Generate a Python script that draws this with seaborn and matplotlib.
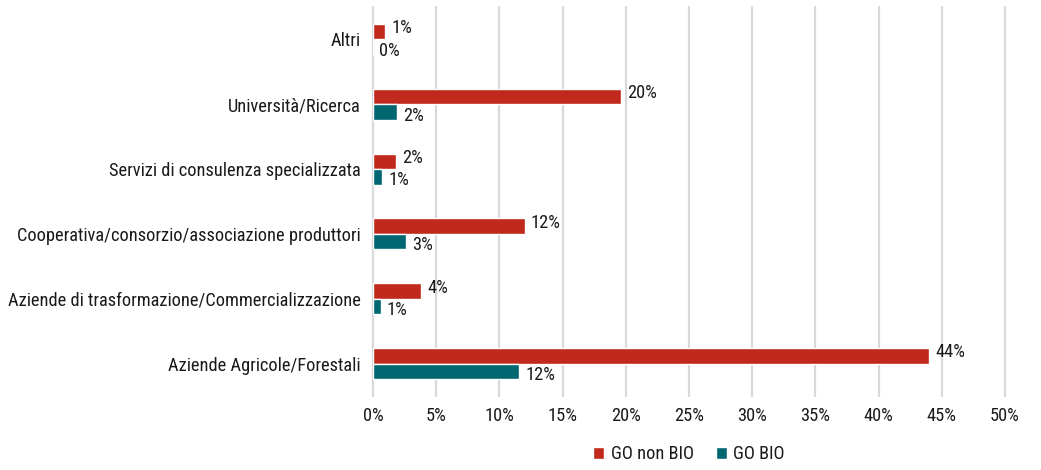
import matplotlib
matplotlib.use("Agg")
import matplotlib.pyplot as plt
import seaborn as sns
import pandas as pd

categorie = [
    "Altri",
    "Università/Ricerca",
    "Servizi di consulenza specializzata",
    "Cooperativa/consorzio/associazione produttori",
    "Aziende di trasformazione/Commercializzazione",
    "Aziende Agricole/Forestali",
]
go_non_bio = [0.95, 19.6, 1.8, 12.0, 3.8, 44.0]
go_bio = [0.0, 1.9, 0.7, 2.6, 0.6, 11.55]
gruppi = ["GO non BIO", "GO BIO"]
colori = ["#C0291B", "#006770"]
tick_x = [0, 5, 10, 15, 20, 25, 30, 35, 40, 45, 50]

df = pd.DataFrame({
    "categoria": categorie * 2,
    "valore": go_non_bio + go_bio,
    "gruppo": [gruppi[0]] * len(categorie) + [gruppi[1]] * len(categorie),
})

sns.set_theme(style="white")
plt.rcParams["font.family"] = ["Roboto Condensed", "DejaVu Sans"]
plt.rcParams["text.color"] = "#1a1a1a"

FS = 13.2

fig = plt.figure(figsize=(10.41, 4.70), dpi=100)
ax = fig.add_axes([0.3583, 0.1574, 0.6071, 0.8277])

sns.barplot(data=df, y="categoria", x="valore", hue="gruppo",
            order=categorie, hue_order=gruppi, palette=colori,
            orient="h", width=0.48, gap=0, ax=ax, legend=True,
            saturation=1)

# value labels: the upper series nudged up, the lower one nudged down
for cont, dy in zip(ax.containers, [2.5, -2.5]):
    anns = ax.bar_label(cont, labels=[f"{v:.0f}%" for v in cont.datavalues],
                        padding=4, fontsize=FS, color="#1a1a1a")
    for a in anns:
        a.xyann = (4.5, dy)

ax.set_xlim(0, 50)
ax.set_xticks(tick_x)
ax.set_xticklabels([f"{t}%" for t in tick_x], fontsize=FS, color="#1a1a1a")
ax.tick_params(axis="y", labelsize=FS, labelcolor="#1a1a1a", length=0, pad=9)
ax.tick_params(axis="x", length=0, pad=8)
ax.set_xlabel("")
ax.set_ylabel("")
ax.grid(axis="x", color="#d9d9d9", linewidth=1.6)
for gl in ax.get_xgridlines():
    gl.set_clip_on(False)
ax.set_axisbelow(True)
for s in ax.spines.values():
    s.set_visible(False)

ax.legend(loc="lower center", bbox_to_anchor=(0.5, -0.215), ncol=2,
          frameon=False, fontsize=FS, handlelength=0.6, handleheight=0.6,
          handletextpad=0.35, columnspacing=1.2)

fig.savefig("out.png", dpi=100)
